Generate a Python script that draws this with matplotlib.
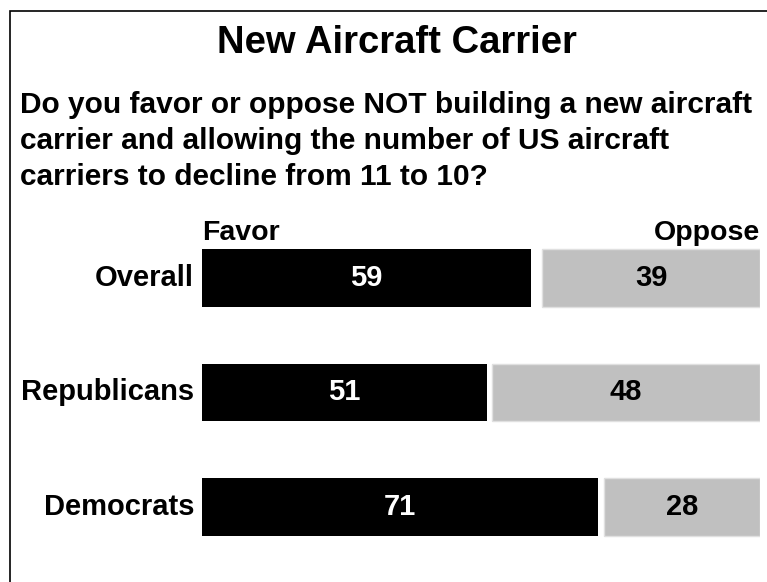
import matplotlib
matplotlib.use("Agg")
import matplotlib.pyplot as plt
from matplotlib.patches import Rectangle

plt.rcParams["font.family"] = ["Liberation Sans", "DejaVu Sans"]
plt.rcParams["font.weight"] = "bold"

# 数据
groups = ["Overall", "Republicans", "Democrats"]
favor = [59, 51, 71]
oppose = [39, 48, 28]
question = [
    "Do you favor or oppose NOT building a new aircraft",
    "carrier and allowing the number of US aircraft",
    "carriers to decline from 11 to 10?",
]

W, H = 767, 582
fig = plt.figure(figsize=(W / 100, H / 100), dpi=100)

# 外框（左、上两边可见）
fig.patches.append(Rectangle((10 / W, -0.1), 1.2, 1 - 11 / H + 0.1,
                             transform=fig.transFigure, fill=False,
                             edgecolor="black", linewidth=1.2))

fig.text(397 / W, 1 - 53 / H, "New Aircraft Carrier", ha="center", va="baseline",
         fontsize=27.5, fontweight="bold")
for i, line in enumerate(question):
    fig.text(20 / W, 1 - (113 + 36 * i) / H, line, ha="left", va="baseline",
             fontsize=21.5, fontweight="bold")

ax = fig.add_axes([202 / W, (H - 564.25) / H, 558 / W, 343.5 / H])
ypos = list(range(len(groups)))
left_oppose = [100 - o for o in oppose]
ax.barh(ypos, favor, height=0.5, color="black")
ax.barh(ypos, oppose, left=left_oppose, height=0.5, color="#c0c0c0",
        edgecolor="#e0e0e0", linewidth=1)
for y, f, o, lo in zip(ypos, favor, oppose, left_oppose):
    ax.text(f / 2, y, str(f), ha="center", va="center", color="white",
            fontsize=21, fontweight="bold")
    ax.text(lo + o / 2, y, str(o), ha="center", va="center", color="black",
            fontsize=21, fontweight="bold")
    ax.text(-1.4, y, groups[y], ha="right", va="center", fontsize=21,
            fontweight="bold")

ax.text(0, -0.33, "Favor", ha="left", va="baseline", fontsize=20.5, fontweight="bold")
ax.text(100, -0.33, "Oppose", ha="right", va="baseline", fontsize=20.5, fontweight="bold")

ax.set_xlim(0, 100)
ax.set_ylim(2.5, -0.5)
ax.axis("off")

fig.savefig("out.png", dpi=100)
